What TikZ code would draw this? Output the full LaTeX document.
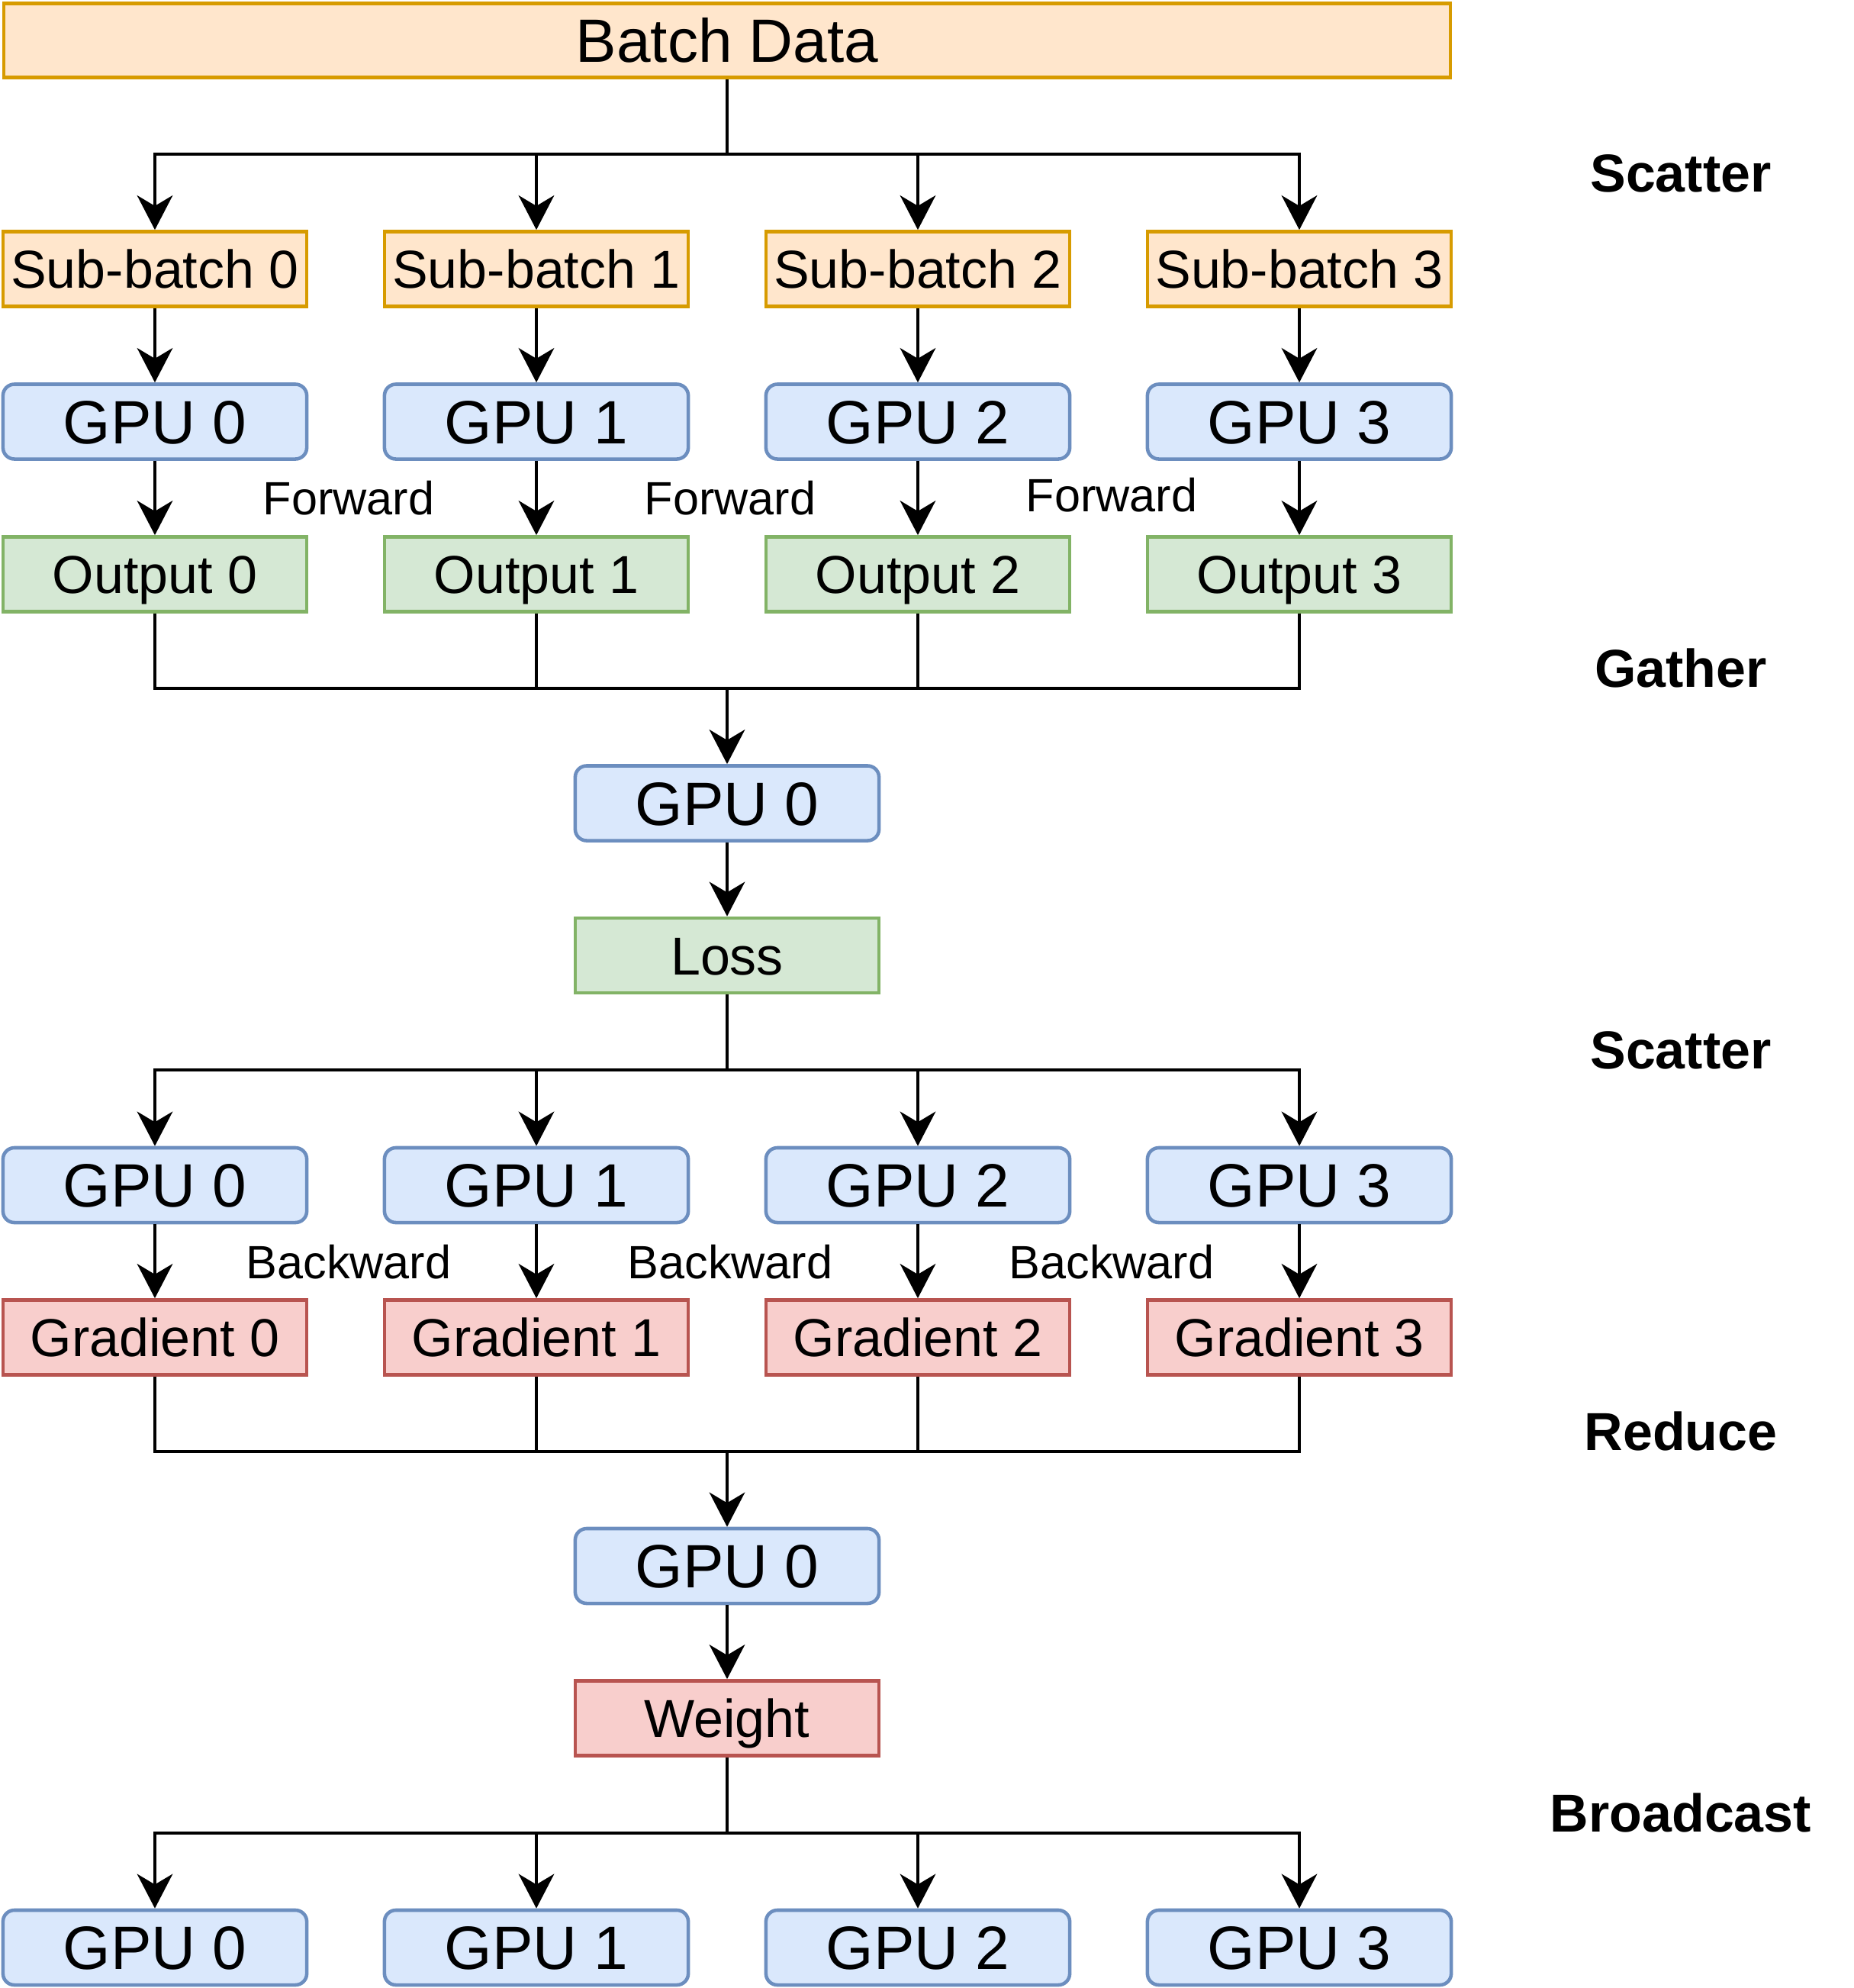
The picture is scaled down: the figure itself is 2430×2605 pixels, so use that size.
\documentclass[tikz,border=0pt]{standalone}
\usepackage{fontspec}
\setmainfont{Liberation Sans}
\usetikzlibrary{arrows.meta}
\definecolor{orF}{HTML}{FFE6CC}\definecolor{orD}{HTML}{D79B00}
\definecolor{blF}{HTML}{DAE8FC}\definecolor{blD}{HTML}{6C8EBF}
\definecolor{grF}{HTML}{D5E8D4}\definecolor{grD}{HTML}{82B366}
\definecolor{rdF}{HTML}{F8CECC}\definecolor{rdD}{HTML}{B85450}
\tikzset{
  szA/.style={font=\fontsize{19.9pt}{24pt}\selectfont, text height=14.25pt, text depth=0pt},
  szB/.style={font=\fontsize{22.8pt}{27pt}\selectfont, text height=16.3pt, text depth=0pt},
  szC/.style={font=\fontsize{17.4pt}{21pt}\selectfont, text height=12.46pt, text depth=0pt},
  basebox/.style={draw, line width=1.3pt, minimum width=3.98cm, minimum height=0.98cm, inner sep=0pt},
  orbox/.style={basebox, szA, fill=orF, draw=orD},
  gpubox/.style={basebox, szB, fill=blF, draw=blD, rounded corners=0.15cm},
  grbox/.style={basebox, szA, fill=grF, draw=grD},
  rdbox/.style={basebox, szA, fill=rdF, draw=rdD},
  steplbl/.style={szC, inner sep=0pt},
  phaselbl/.style={font=\fontsize{19.9pt}{24pt}\selectfont\bfseries, text height=14.25pt, text depth=0pt, inner sep=0pt},
  conn/.style={line width=1.4pt, draw=black},
  arr/.style={conn, -{Stealth[length=12.8pt, width=13.2pt, inset=3.9pt]}},
}
\begin{document}
\begin{tikzpicture}[x=0.01cm, y=-0.01cm]
\useasboundingbox (0,0) rectangle (2430,2605);
% Top
\node[orbox, szB, minimum width=18.95cm, minimum height=0.97cm] (batch) at (953,53) {Batch Data};
\foreach \i/\x in {0/203,1/703,2/1203,3/1703}{
  \node[orbox] (sb\i) at (\x,352.5) {Sub-batch \i};
  \node[gpubox] (gpu\i) at (\x,552.5) {GPU \i};
  \node[grbox] (out\i) at (\x,752.5) {Output \i};
  \node[gpubox] (gb\i) at (\x,1553) {GPU \i};
  \node[rdbox] (grad\i) at (\x,1752.5) {Gradient \i};
  \node[gpubox] (gf\i) at (\x,2552) {GPU \i};
}
\node[gpubox] (gpuA) at (953,1052.5) {GPU 0};
\node[grbox] (loss) at (953,1252) {Loss};
\node[gpubox] (gpuB) at (953,2052) {GPU 0};
\node[rdbox] (weight) at (953,2251.5) {Weight};
% step labels
\node[steplbl] (fw0) at (457,653) {Forward};
\node[steplbl] (fw1) at (957,653) {Forward};
\node[steplbl] (fw2) at (1457,649) {Forward};
\node[steplbl] (bw0) at (457,1654) {Backward};
\node[steplbl] (bw1) at (957,1654) {Backward};
\node[steplbl] (bw2) at (1457,1654) {Backward};
% phase labels
\node[phaselbl] (ph1) at (2203,226) {Scatter};
\node[phaselbl] (ph2) at (2203,875) {Gather};
\node[phaselbl] (ph3) at (2203,1375) {Scatter};
\node[phaselbl] (ph4) at (2203,1875) {Reduce};
\node[phaselbl] (ph5) at (2203,2375) {Broadcast};
% bus coordinates
\coordinate (busA) at (953,202);
\coordinate (busB) at (953,902);
\coordinate (busC) at (953,1402);
\coordinate (busD) at (953,1902);
\coordinate (busE) at (953,2402);
% connectors
\draw[conn] (batch) -- (busA);
\draw[conn] (loss) -- (busC);
\draw[conn] (weight) -- (busE);
\foreach \i in {0,1,2,3}{
  \draw[arr] (busA) -| (sb\i);
  \draw[arr] (sb\i) -- (gpu\i);
  \draw[arr] (gpu\i) -- (out\i);
  \draw[conn] (out\i) |- (busB);
  \draw[arr] (busC) -| (gb\i);
  \draw[arr] (gb\i) -- (grad\i);
  \draw[conn] (grad\i) |- (busD);
  \draw[arr] (busE) -| (gf\i);
}
\draw[arr] (busB) -- (gpuA);
\draw[arr] (gpuA) -- (loss);
\draw[arr] (busD) -- (gpuB);
\draw[arr] (gpuB) -- (weight);
\end{tikzpicture}
\end{document}
